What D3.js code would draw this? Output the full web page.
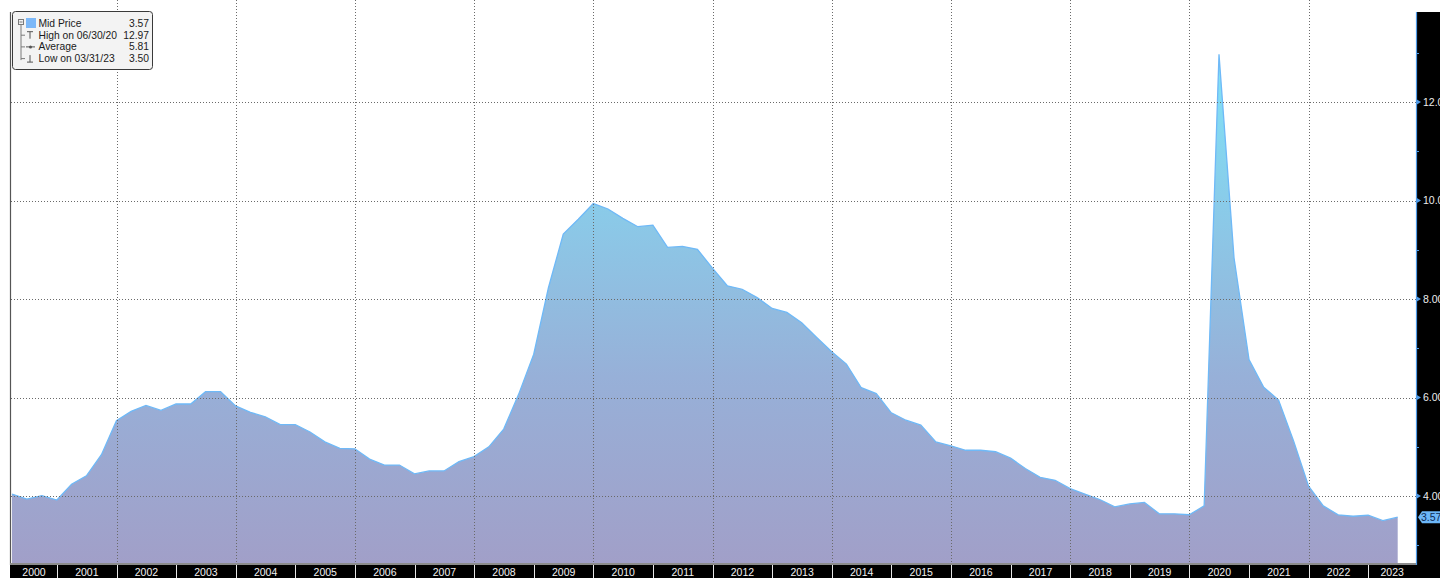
<!DOCTYPE html>
<html>
<head>
<meta charset="utf-8">
<script src="https://cdn.jsdelivr.net/npm/d3@7"></script>
<style>
  html, body { margin: 0; padding: 0; background: #fff; overflow: hidden; }
  svg { display: block; font-family: Tahoma, "Liberation Sans", Arial, sans-serif; }
</style>
</head>
<body>
<div id="chart"></div>
<script>
// quarterly observations, 03/31/2000 .. 06/30/2023
const quarterEnds = [
  "2000-03-31", "2000-06-30", "2000-09-30", "2000-12-31",
  "2001-03-31", "2001-06-30", "2001-09-30", "2001-12-31",
  "2002-03-31", "2002-06-30", "2002-09-30", "2002-12-31",
  "2003-03-31", "2003-06-30", "2003-09-30", "2003-12-31",
  "2004-03-31", "2004-06-30", "2004-09-30", "2004-12-31",
  "2005-03-31", "2005-06-30", "2005-09-30", "2005-12-31",
  "2006-03-31", "2006-06-30", "2006-09-30", "2006-12-31",
  "2007-03-31", "2007-06-30", "2007-09-30", "2007-12-31",
  "2008-03-31", "2008-06-30", "2008-09-30", "2008-12-31",
  "2009-03-31", "2009-06-30", "2009-09-30", "2009-12-31",
  "2010-03-31", "2010-06-30", "2010-09-30", "2010-12-31",
  "2011-03-31", "2011-06-30", "2011-09-30", "2011-12-31",
  "2012-03-31", "2012-06-30", "2012-09-30", "2012-12-31",
  "2013-03-31", "2013-06-30", "2013-09-30", "2013-12-31",
  "2014-03-31", "2014-06-30", "2014-09-30", "2014-12-31",
  "2015-03-31", "2015-06-30", "2015-09-30", "2015-12-31",
  "2016-03-31", "2016-06-30", "2016-09-30", "2016-12-31",
  "2017-03-31", "2017-06-30", "2017-09-30", "2017-12-31",
  "2018-03-31", "2018-06-30", "2018-09-30", "2018-12-31",
  "2019-03-31", "2019-06-30", "2019-09-30", "2019-12-31",
  "2020-03-31", "2020-06-30", "2020-09-30", "2020-12-31",
  "2021-03-31", "2021-06-30", "2021-09-30", "2021-12-31",
  "2022-03-31", "2022-06-30", "2022-09-30", "2022-12-31",
  "2023-03-31", "2023-06-30"
];

const midPrice = [
  4.04, 3.94, 4.01, 3.92,
  4.24, 4.41, 4.84, 5.53,
  5.72, 5.84, 5.74, 5.87,
  5.87, 6.12, 6.12, 5.83,
  5.70, 5.61, 5.45, 5.45,
  5.30, 5.10, 4.97, 4.96,
  4.75, 4.63, 4.63, 4.45,
  4.51, 4.51, 4.70, 4.80,
  5.00, 5.36, 6.07, 6.88,
  8.23, 9.32, 9.62, 9.94,
  9.83, 9.64, 9.47, 9.50,
  9.05, 9.07, 9.01, 8.63,
  8.27, 8.20, 8.03, 7.81,
  7.73, 7.52, 7.22, 6.93,
  6.68, 6.20, 6.08, 5.69,
  5.54, 5.44, 5.10, 5.02,
  4.93, 4.93, 4.90, 4.77,
  4.56, 4.38, 4.32, 4.15,
  4.04, 3.93, 3.78, 3.84,
  3.87, 3.64, 3.64, 3.62,
  3.80, 12.97, 8.84, 6.77,
  6.21, 5.95, 5.12, 4.20,
  3.80, 3.62, 3.59, 3.61,
  3.50, 3.57
];

const yearLabels = [2000, 2001, 2002, 2003, 2004, 2005, 2006, 2007, 2008, 2009, 2010, 2011,
  2012, 2013, 2014, 2015, 2016, 2017, 2018, 2019, 2020, 2021, 2022, 2023];
const gridYears = [2002, 2004, 2006, 2008, 2010, 2012, 2014, 2016, 2018, 2020, 2022];
const yMajorTicks = [4, 6, 8, 10, 12];
const yMinorTicks = [3, 5, 7, 9, 11, 13];

const legendLabels = ["Mid Price", "High on 06/30/20", "Average", "Low on 03/31/23"];
const legendValues = ["3.57", "12.97", "5.81", "3.50"];
const lastPrice = 3.57;

class MidPriceChart {
  constructor(options) {
    this.el = options.el;
    this.width = 1440;
    this.height = 578;
    // plot box
    this.left = 11;
    this.top = 12;
    this.right = 1416;
    this.bottom = 565;
    this.data = quarterEnds.map((d, i) => ({ date: d3.timeParse("%Y-%m-%d")(d), value: midPrice[i] }));
    this._init();
  }

  _init() {
    this.svg = d3.select(this.el).append("svg")
      .attr("width", this.width)
      .attr("height", this.height);
    this.svg.append("rect").attr("width", this.width).attr("height", this.height).attr("fill", "#fff");

    this.xScale = d3.scaleTime()
      .domain([new Date(2000, 2, 31), new Date(2023, 5, 30)])
      .range([12, 1397.7]);
    this.yScale = d3.scaleLinear()
      .domain([2.6, 13.83])
      .range([this.bottom, this.top]);

    this._createGradient();
    this._createArea();
    this._createGrid();
    this._createXaxis();
    this._createYaxis();
    this._createLegend();
  }

  _createGradient() {
    const grad = this.svg.append("defs").append("linearGradient")
      .attr("id", "fillGrad")
      .attr("gradientUnits", "userSpaceOnUse")
      .attr("x1", 0).attr("x2", 0)
      .attr("y1", this.top).attr("y2", this.bottom);
    [["0%", "#7deafc"], ["33%", "#89cdea"], ["66%", "#97b0d8"], ["100%", "#a19fc8"]]
      .forEach(s => grad.append("stop").attr("offset", s[0]).attr("stop-color", s[1]));
  }

  _createArea() {
    const area = d3.area()
      .x(d => this.xScale(d.date))
      .y0(this.bottom)
      .y1(d => this.yScale(d.value));
    const line = d3.line()
      .x(d => this.xScale(d.date))
      .y(d => this.yScale(d.value));

    this.svg.append("path")
      .datum(this.data)
      .attr("d", area)
      .attr("fill", "url(#fillGrad)");
    this.svg.append("path")
      .datum(this.data)
      .attr("d", line)
      .attr("fill", "none")
      .attr("stroke", "#6fb9f7")
      .attr("stroke-width", 1.3);
  }

  _createGrid() {
    const g = this.svg.append("g").attr("class", "grid")
      .attr("stroke", "#6a6a6a")
      .attr("stroke-width", 1)
      .attr("stroke-dasharray", "1,2");
    g.selectAll(".gx").data(gridYears).enter().append("line")
      .attr("x1", d => Math.round(this.xScale(new Date(d, 0, 1))) + 0.5)
      .attr("x2", d => Math.round(this.xScale(new Date(d, 0, 1))) + 0.5)
      .attr("y1", 0)
      .attr("y2", this.bottom);
    g.selectAll(".gy").data(yMajorTicks).enter().append("line")
      .attr("x1", this.left)
      .attr("x2", this.right)
      .attr("y1", d => Math.round(this.yScale(d)) + 0.5)
      .attr("y2", d => Math.round(this.yScale(d)) + 0.5);

    // left frame line
    this.svg.append("line")
      .attr("x1", this.left - 0.5).attr("x2", this.left - 0.5)
      .attr("y1", this.top).attr("y2", this.bottom)
      .attr("stroke", "#555").attr("stroke-width", 1.2);
  }

  _createXaxis() {
    const band = this.svg.append("g").attr("class", "xAxis");
    band.append("rect")
      .attr("x", this.left - 1).attr("y", this.bottom)
      .attr("width", this.width - this.left + 1).attr("height", this.height - this.bottom)
      .attr("fill", "#000");
    band.append("line")
      .attr("x1", this.left - 1).attr("x2", this.right)
      .attr("y1", this.bottom - 1).attr("y2", this.bottom - 1)
      .attr("stroke", "#8c8c8c").attr("stroke-width", 2);

    const yearStart = y => Math.max(this.left, Math.min(this.right, this.xScale(new Date(y, 0, 1))));

    band.selectAll(".sep").data(yearLabels.slice(1)).enter().append("line")
      .attr("x1", d => Math.round(this.xScale(new Date(d, 0, 1))) + 0.5)
      .attr("x2", d => Math.round(this.xScale(new Date(d, 0, 1))) + 0.5)
      .attr("y1", this.bottom)
      .attr("y2", this.height)
      .attr("stroke", "#e8e8e8");

    band.selectAll(".lbl").data(yearLabels).enter().append("text")
      .attr("x", d => (yearStart(d) + yearStart(d + 1)) / 2)
      .attr("y", 576)
      .attr("text-anchor", "middle")
      .attr("fill", "#f2f2f2")
      .attr("font-size", "10.5px")
      .text(d => d);
  }

  _createYaxis() {
    const g = this.svg.append("g").attr("class", "yAxis");
    g.append("rect")
      .attr("x", this.right).attr("y", this.top)
      .attr("width", this.width - this.right).attr("height", this.height - this.top)
      .attr("fill", "#000");

    const axis = g.append("g")
      .attr("transform", `translate(${this.right},0)`)
      .call(d3.axisRight(this.yScale).tickValues(yMajorTicks).tickSize(0).tickPadding(7)
        .tickFormat(d3.format(".2f")));
    axis.select(".domain").remove();
    axis.selectAll("text")
      .attr("fill", "#ececec")
      .attr("font-size", "10.5px")
      .attr("font-family", null);

    g.append("line")
      .attr("x1", this.right + 0.5).attr("x2", this.right + 0.5)
      .attr("y1", this.top).attr("y2", this.bottom)
      .attr("stroke", "#4f9be8").attr("stroke-width", 1.2);

    g.selectAll(".tri").data(yMajorTicks).enter().append("path")
      .attr("d", d => {
        const y = this.yScale(d);
        return `M${this.right},${y - 3}L${this.right + 5},${y}L${this.right},${y + 3}Z`;
      })
      .attr("fill", "#4f9be8");
    g.selectAll(".minor").data(yMinorTicks).enter().append("line")
      .attr("x1", this.right).attr("x2", this.right + 3)
      .attr("y1", d => Math.round(this.yScale(d)) + 0.5)
      .attr("y2", d => Math.round(this.yScale(d)) + 0.5)
      .attr("stroke", "#4f9be8");

    // last price badge
    const by = this.yScale(lastPrice);
    g.append("path")
      .attr("d", `M${this.right + 2},${by}L${this.right + 6},${by - 6}L${this.width},${by - 6}L${this.width},${by + 6}L${this.right + 6},${by + 6}Z`)
      .attr("fill", "#6cb6f7");
    g.append("text")
      .attr("x", this.right + 5)
      .attr("y", by)
      .attr("dy", "0.35em")
      .attr("fill", "#0d2a55")
      .attr("font-size", "10.5px")
      .text(lastPrice.toFixed(2));
  }

  _createLegend() {
    const g = this.svg.append("g").attr("class", "legend");
    g.append("rect")
      .attr("x", 12.5).attr("y", 11.5)
      .attr("width", 140).attr("height", 58)
      .attr("rx", 3)
      .attr("fill", "#f3f3f3")
      .attr("stroke", "#3a3a3a");

    const rowY = i => 27 + i * 11.7;
    const tree = "#7a7a7a";

    // collapse box and tree lines
    g.append("rect").attr("x", 18.5).attr("y", 19.5).attr("width", 5).attr("height", 5)
      .attr("fill", "none").attr("stroke", tree);
    g.append("line").attr("x1", 19.5).attr("x2", 22.5).attr("y1", 22).attr("y2", 22).attr("stroke", tree);
    g.append("line").attr("x1", 21).attr("x2", 21).attr("y1", 25).attr("y2", rowY(3) - 2)
      .attr("stroke", tree);
    g.selectAll(".branch").data([1, 2, 3]).enter().append("line")
      .attr("x1", 21).attr("x2", 25)
      .attr("y1", i => rowY(i) - 3.5).attr("y2", i => rowY(i) - 3.5)
      .attr("stroke", tree);

    g.append("rect").attr("x", 26).attr("y", 18).attr("width", 10).attr("height", 10).attr("fill", "#7cb8f8");

    // marker glyphs: high, average, low
    g.append("path").attr("d", `M27,${rowY(1) - 7}H33M30,${rowY(1) - 7}V${rowY(1)}`)
      .attr("stroke", "#555").attr("fill", "none");
    g.append("path").attr("d", `M26,${rowY(2) - 3.5}H35`).attr("stroke", "#555");
    g.append("circle").attr("cx", 30.5).attr("cy", rowY(2) - 3.5).attr("r", 1.5).attr("fill", "#555");
    g.append("path").attr("d", `M27,${rowY(3)}H33M30,${rowY(3)}V${rowY(3) - 7}`)
      .attr("stroke", "#555").attr("fill", "none");

    g.selectAll(".lab").data(legendLabels).enter().append("text")
      .attr("x", 38.5)
      .attr("y", (d, i) => rowY(i))
      .attr("font-size", "10.3px")
      .attr("fill", "#1a1a1a")
      .text(d => d);
    g.selectAll(".val").data(legendValues).enter().append("text")
      .attr("x", 149)
      .attr("y", (d, i) => rowY(i))
      .attr("text-anchor", "end")
      .attr("font-size", "10.3px")
      .attr("fill", "#1a1a1a")
      .text(d => d);
  }
}

new MidPriceChart({ el: "#chart" });
</script>
</body>
</html>
